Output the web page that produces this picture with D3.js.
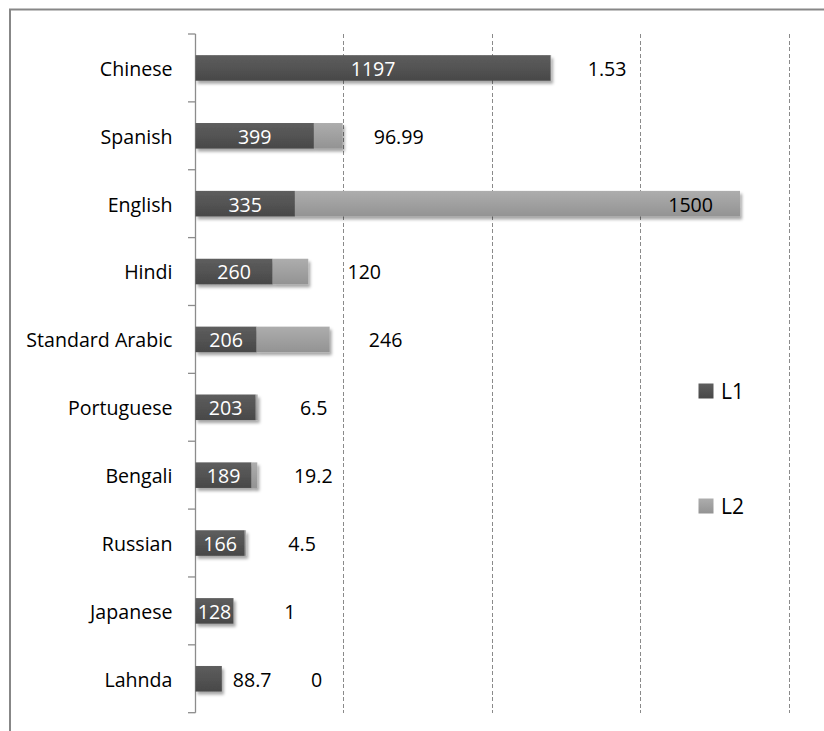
<!DOCTYPE html>
<html>
<head>
<meta charset="utf-8">
<script src="https://cdn.jsdelivr.net/npm/d3@7/dist/d3.min.js"></script>
<style>
  html, body { margin: 0; padding: 0; background: #fff; }
  svg { display: block; font-family: "Open Sans", "DejaVu Sans", sans-serif; }
</style>
</head>
<body>
<svg id="chart" width="824" height="731"></svg>
<script>
// Speakers in millions: first-language (L1) and second-language (L2)
const languages = ["Chinese", "Spanish", "English", "Hindi", "Standard Arabic",
                   "Portuguese", "Bengali", "Russian", "Japanese", "Lahnda"];
const l1Values = [1197, 399, 335, 260, 206, 203, 189, 166, 128, 88.7];
const l2Values = [1.53, 96.99, 1500, 120, 246, 6.5, 19.2, 4.5, 1, 0];
const l1Labels = ["1197", "399", "335", "260", "206", "203", "189", "166", "128", "88.7"];
const l2Labels = ["1.53", "96.99", "1500", "120", "246", "6.5", "19.2", "4.5", "1", "0"];
const seriesNames = ["L1", "L2"];
const gridValues = [500, 1000, 1500, 2000];

const svg = d3.select("#chart");
const fontSize = 19.6;

const x = d3.scaleLinear().domain([0, 2000]).range([195.5, 789]);
const y = d3.scaleBand().domain(languages).range([34, 712.7])
  .paddingInner(0.623).paddingOuter(0.3115);

// Chart frame (top and left edges visible)
svg.append("rect")
  .attr("x", 10).attr("y", 9.5).attr("width", 900).attr("height", 900)
  .attr("fill", "none").attr("stroke", "#878787").attr("stroke-width", 2);

const defs = svg.append("defs");
const shadow = defs.append("filter").attr("id", "shadow")
  .attr("x", "-10%").attr("y", "-30%").attr("width", "130%").attr("height", "180%");
shadow.append("feDropShadow").attr("dx", 2).attr("dy", 3).attr("stdDeviation", 1.8)
  .attr("flood-color", "#000").attr("flood-opacity", 0.35);

function gradient(id, top, bottom) {
  const g = defs.append("linearGradient").attr("id", id)
    .attr("x1", 0).attr("y1", 0).attr("x2", 0).attr("y2", 1);
  g.append("stop").attr("offset", "0%").attr("stop-color", top);
  g.append("stop").attr("offset", "100%").attr("stop-color", bottom);
}
gradient("gL1", "#5e5e5e", "#484848");
gradient("gL2", "#adadad", "#939393");
const fills = ["url(#gL1)", "url(#gL2)"];

// Dashed vertical gridlines
const y0 = y.range()[0], y1 = y.range()[1];
svg.append("g").selectAll("line").data(gridValues).join("line")
  .attr("x1", d => x(d)).attr("x2", d => x(d))
  .attr("y1", y0).attr("y2", y1)
  .attr("stroke", "#8a8a8a").attr("stroke-width", 1)
  .attr("stroke-dasharray", "4,2.5")
  .attr("shape-rendering", "crispEdges");

// Category axis with ticks between bands
const step = y.step();
const tickPos = d3.range(languages.length + 1).map(i => y0 + i * step);
const axis = svg.append("g");
axis.append("line")
  .attr("x1", x(0)).attr("x2", x(0)).attr("y1", y0).attr("y2", y1)
  .attr("stroke", "#8c8c8c").attr("stroke-width", 1.3);
axis.selectAll("line.tick").data(tickPos).join("line").attr("class", "tick")
  .attr("x1", x(0) - 7.5).attr("x2", x(0)).attr("y1", d => d).attr("y2", d => d)
  .attr("stroke", "#8c8c8c").attr("stroke-width", 1.3);
axis.selectAll("text").data(languages).join("text")
  .attr("x", 172.5).attr("y", d => y(d) + y.bandwidth() / 2)
  .attr("dy", "0.4em").attr("text-anchor", "end")
  .attr("font-size", fontSize).attr("fill", "#000")
  .text(d => d);

// Stacked bars
const rows = languages.map((name, i) => ({
  name, l1: l1Values[i], l2: l2Values[i], l1Label: l1Labels[i], l2Label: l2Labels[i]
}));
const stack = d3.stack().keys(["l1", "l2"])(rows);

const barG = svg.append("g").attr("filter", "url(#shadow)");
stack.forEach((layer, k) => {
  barG.append("g").selectAll("rect").data(layer).join("rect")
    .attr("x", d => x(d[0]))
    .attr("y", d => y(d.data.name))
    .attr("width", d => Math.max(0, x(d[1]) - x(d[0])))
    .attr("height", y.bandwidth())
    .attr("fill", fills[k]);
});

// Value labels: L1 inside its bar when it fits, L2 past the end of the stack
const labelG = svg.append("g").attr("font-size", fontSize);
rows.forEach(r => {
  const cy = y(r.name) + y.bandwidth() / 2;
  const w1 = x(r.l1) - x(0);
  const t1 = labelG.append("text").attr("y", cy).attr("dy", "0.4em").text(r.l1Label);
  const tw1 = t1.node().getComputedTextLength();
  let l2Center = x(r.l1 + r.l2) + 56;
  if (tw1 + 4 <= w1) {
    t1.attr("x", x(0) + w1 / 2).attr("text-anchor", "middle").attr("fill", "#fff");
  } else {
    t1.attr("x", x(r.l1) + 11).attr("text-anchor", "start").attr("fill", "#000");
    l2Center = Math.max(l2Center, x(r.l1) + 11 + tw1 + 45);
  }
  const segW = x(r.l1 + r.l2) - x(r.l1);
  const t2 = labelG.append("text").attr("y", cy).attr("dy", "0.4em")
    .attr("fill", "#000").text(r.l2Label);
  if (segW > 120) {
    t2.attr("x", x(r.l1 + r.l2) - 27).attr("text-anchor", "end");
  } else {
    t2.attr("x", l2Center).attr("text-anchor", "middle");
  }
});

// Legend
const legend = svg.append("g");
const legendY = [391, 506];
seriesNames.forEach((s, i) => {
  legend.append("rect").attr("x", 698.5).attr("y", legendY[i] - 7.5)
    .attr("width", 15).attr("height", 15).attr("fill", fills[i]);
  legend.append("text").attr("x", 721).attr("y", legendY[i]).attr("dy", "0.38em")
    .attr("font-size", 21).attr("fill", "#000").text(s);
});
</script>
</body>
</html>
